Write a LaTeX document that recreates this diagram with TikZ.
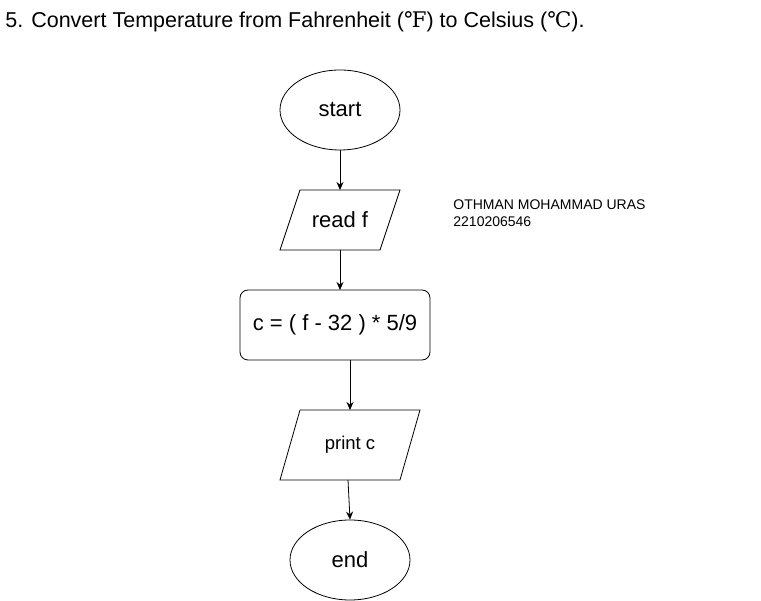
\documentclass[tikz,border=0pt]{standalone}
\usepackage{fontspec}
\setmainfont{Liberation Sans}
\newfontfamily\degfont{DejaVu Serif}
\usetikzlibrary{shapes.geometric,arrows.meta}
\tikzset{
  term/.style={draw, ellipse, minimum width=120pt, minimum height=80pt, inner sep=0pt, font=\fontsize{22}{26}\selectfont},
  io/.style={rectangle, minimum width=120pt, inner sep=0pt, outer sep=0pt},
  flow/.style={-{Stealth[length=8pt,width=7pt]}, line width=0.8pt}
}
\begin{document}
\begin{tikzpicture}[x=1pt,y=-1pt,line width=0.8pt]
        \useasboundingbox (0,0) rectangle (761,601);
        % Title
        \node[anchor=base west, inner sep=0pt, font=\fontsize{21.5}{25}\selectfont] (title) at (5,28)
          {5. Convert Temperature from Fahrenheit ({\degfont ℉}) to Celsius ({\degfont ℃}).};
        
        % Start
        \node[term] (start) at (340,110) {start};
        
        % Read
        \node[io, minimum width=100pt, minimum height=60pt, font=\fontsize{22}{26}\selectfont] (read) at (340,220) {read f};
        \draw ([xshift=10pt]read.north west) -- ([xshift=10pt]read.north east)
          -- ([xshift=-10pt]read.south east) -- ([xshift=-10pt]read.south west) -- cycle;
        
        % Formula
        \node[draw, rectangle, rounded corners=8pt, minimum width=190pt, minimum height=70pt,
              inner sep=0pt, outer sep=0pt, font=\fontsize{22}{26}\selectfont] (calc) at (335,325) {c = ( f - 32 ) * 5/9};
        
        % Print
        \node[io, minimum width=120pt, minimum height=70pt, font=\fontsize{18.5}{22}\selectfont] (print) at (350,445) {print c};
        \draw ([xshift=10pt]print.north west) -- ([xshift=10pt]print.north east)
          -- ([xshift=-10pt]print.south east) -- ([xshift=-10pt]print.south west) -- cycle;
        
        % End
        \node[term] (end) at (350,560) {end};
        
        % Name
        \node[anchor=north west, align=left, inner sep=0pt, font=\fontsize{14}{17}\selectfont] (name) at (453,199)
          {OTHMAN MOHAMMAD URAS\\2210206546};
        
        % Arrows
        \draw[flow] (start) -- (read);
        \draw[flow] (read.south) -- (read.south |- calc.north);
        \draw[flow] ([xshift=15pt]calc.south) -- (print.north);
        \draw[flow] ([xshift=-2pt]print.south) -- (end.north);
    \end{tikzpicture}
\end{document}
